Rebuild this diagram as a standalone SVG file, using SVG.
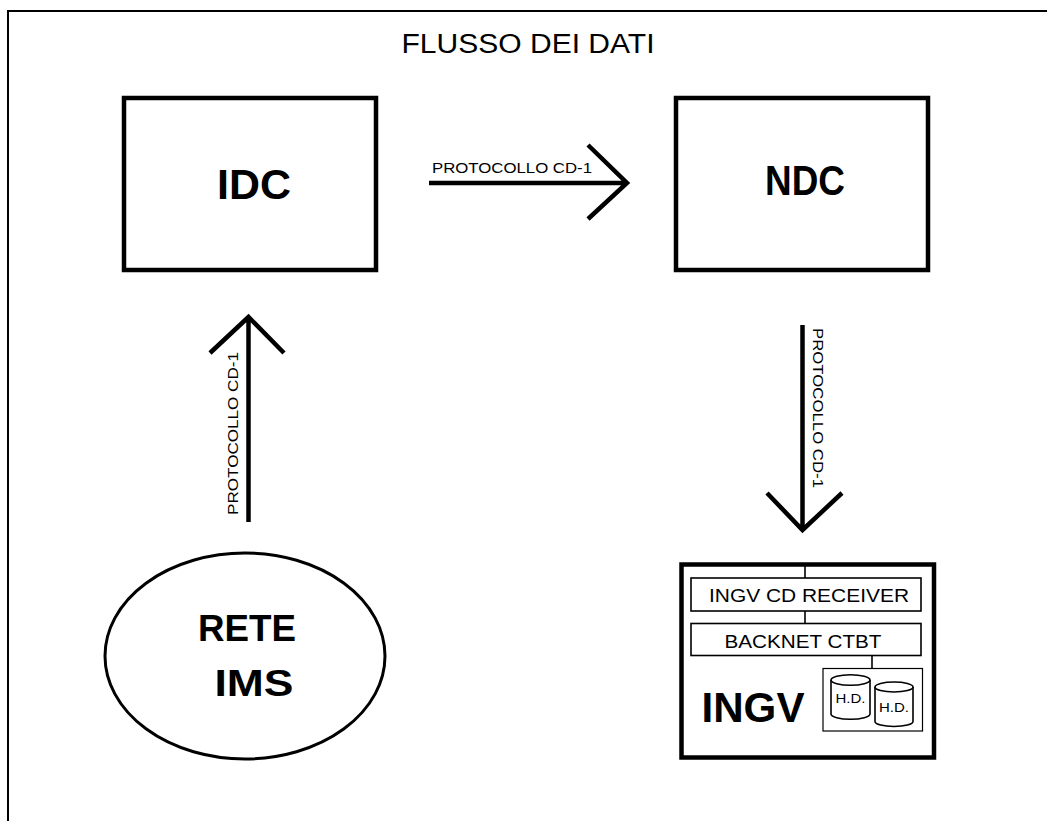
<svg xmlns="http://www.w3.org/2000/svg" width="1047" height="821" viewBox="0 0 1047 821">
<style>
.t{font-family:"Liberation Sans",Arial,sans-serif;fill:#000}
.b{font-weight:bold}
.box{fill:#fff;stroke:#000;stroke-width:4.5}
.thin{fill:#fff;stroke:#000;stroke-width:1.6}
.hair{fill:none;stroke:#000;stroke-width:1.2}
.ln{fill:none;stroke:#000;stroke-width:1.6}
.arr{fill:none;stroke:#000;stroke-width:4.5;stroke-linejoin:miter;stroke-linecap:butt}
.cyl{fill:#fff;stroke:#000;stroke-width:1.6}
</style>
<rect width="1047" height="821" fill="#fff"/>
<path d="M8,830 V11 H1060" fill="none" stroke="#000" stroke-width="2"/>
<text class="t" x="528" y="53" font-size="27" text-anchor="middle" textLength="253" lengthAdjust="spacingAndGlyphs">FLUSSO DEI DATI</text>

<g id="idc">
<rect class="box" x="124" y="98" width="252" height="172"/>
<text class="t b" x="254" y="199" font-size="42" text-anchor="middle" textLength="74" lengthAdjust="spacingAndGlyphs">IDC</text>
</g>

<g id="ndc">
<rect class="box" x="676" y="98" width="252" height="172"/>
<text class="t b" x="805" y="195" font-size="42" text-anchor="middle" textLength="80" lengthAdjust="spacingAndGlyphs">NDC</text>
</g>

<g id="rete-ims">
<ellipse cx="245" cy="656" rx="140" ry="103" fill="#fff" stroke="#000" stroke-width="3"/>
<text class="t b" x="247" y="641" font-size="36" text-anchor="middle" textLength="98" lengthAdjust="spacingAndGlyphs">RETE</text>
<text class="t b" x="254" y="696" font-size="36" text-anchor="middle" textLength="79" lengthAdjust="spacingAndGlyphs">IMS</text>
</g>

<g id="ingv">
<rect class="box" x="681.5" y="564.5" width="252.5" height="193"/>
<line class="ln" x1="805" y1="566" x2="805" y2="578"/>
<rect class="thin" x="691" y="578" width="230" height="33"/>
<text class="t" x="809" y="602" font-size="19" text-anchor="middle" textLength="200" lengthAdjust="spacingAndGlyphs">INGV CD RECEIVER</text>
<line class="ln" x1="805" y1="611" x2="805" y2="623.5"/>
<rect class="thin" x="691" y="623.5" width="230" height="32"/>
<text class="t" x="803" y="648" font-size="19" text-anchor="middle" textLength="157" lengthAdjust="spacingAndGlyphs">BACKNET CTBT</text>
<line class="ln" x1="872" y1="655.5" x2="872" y2="668.5"/>
<rect class="hair" x="823" y="668.5" width="99.5" height="62.5"/>
<g id="hd1">
<path class="cyl" d="M831,680 V714 A19.5,5.3 0 0 0 870,714 V680"/>
<ellipse class="cyl" cx="850.5" cy="680" rx="19.5" ry="5.3"/>
<text class="t" x="850.5" y="703" font-size="13" text-anchor="middle" textLength="30" lengthAdjust="spacingAndGlyphs">H.D.</text>
</g>
<g id="hd2">
<path class="cyl" d="M875,687 V721.5 A19,5 0 0 0 913,721.5 V687"/>
<ellipse class="cyl" cx="894" cy="687" rx="19" ry="5"/>
<text class="t" x="894" y="711.5" font-size="13" text-anchor="middle" textLength="30" lengthAdjust="spacingAndGlyphs">H.D.</text>
</g>
<text class="t b" x="753" y="722" font-size="43" text-anchor="middle" textLength="103" lengthAdjust="spacingAndGlyphs">INGV</text>
</g>

<g id="connectors">
<g id="idc-ndc">
<path class="arr" d="M429,183 H627 M588,145 L627,183 L588,219"/>
<text class="t" x="432" y="173" font-size="15" textLength="160" lengthAdjust="spacingAndGlyphs">PROTOCOLLO CD-1</text>
</g>
<g id="ims-idc">
<path class="arr" d="M248.5,522 V317 M210,353 L248.5,317 L284,353"/>
<text class="t" transform="translate(238,515) rotate(-90)" x="0" y="0" font-size="15" textLength="163" lengthAdjust="spacingAndGlyphs">PROTOCOLLO CD-1</text>
</g>
<g id="ndc-ingv">
<path class="arr" d="M802.5,325 V530 M767,493 L802.5,530 L842,493"/>
<text class="t" transform="translate(813,328) rotate(90)" x="0" y="0" font-size="15" textLength="160" lengthAdjust="spacingAndGlyphs">PROTOCOLLO CD-1</text>
</g>
</g>
</svg>
